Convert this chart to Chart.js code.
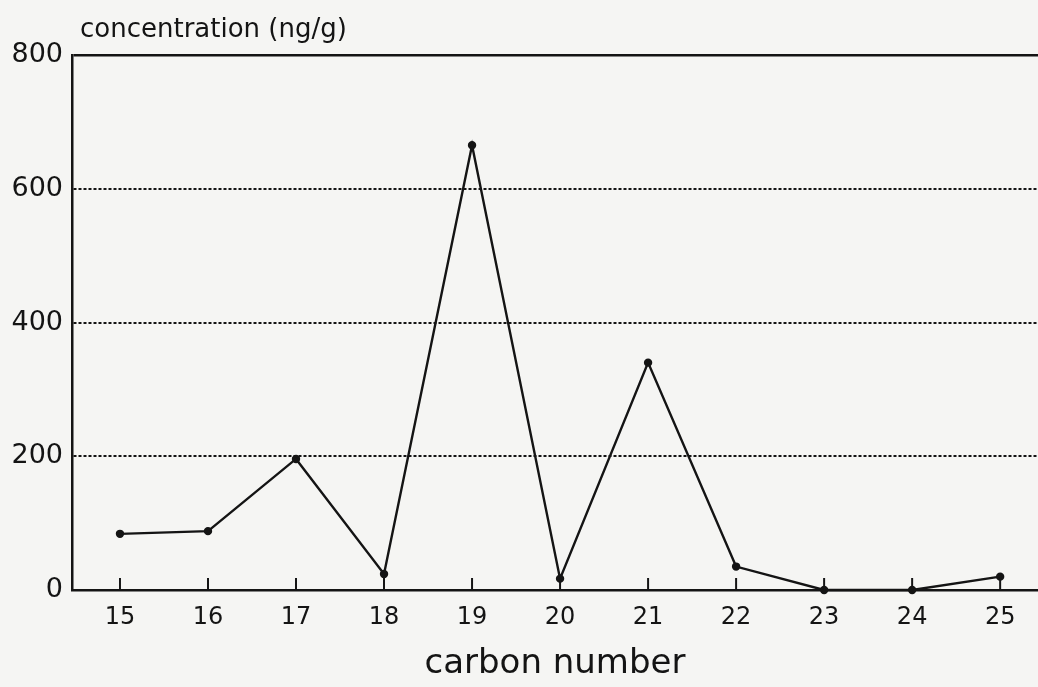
<!DOCTYPE html>
<html>
<head>
<meta charset="utf-8">
<script src="https://cdn.jsdelivr.net/npm/chart.js@4"></script>
<style>
  html, body { margin: 0; padding: 0; background: #f5f5f3; }
  #wrap { width: 1038px; height: 687px; }
</style>
</head>
<body>
<div id="wrap"><canvas id="chart" width="1038" height="687"></canvas></div>
<script>
const carbonNumbers = [15, 16, 17, 18, 19, 20, 21, 22, 23, 24, 25];
const concentration = [84, 88, 196, 24, 665, 17, 340, 35, 0, 0, 20];
const yTicks = [0, 200, 400, 600, 800];

const ink = "#141414";
const font = "'DejaVu Sans', sans-serif";

// short upward ticks on the x axis + the y axis caption
const extras = {
  id: "extras",
  afterDraw(chart) {
    const c = chart.ctx;
    const x = chart.scales.x;
    const area = chart.chartArea;
    c.save();
    c.strokeStyle = ink;
    c.lineWidth = 2;
    carbonNumbers.forEach(n => {
      const px = x.getPixelForValue(n);
      c.beginPath();
      c.moveTo(px, area.bottom);
      c.lineTo(px, area.bottom - 12);
      c.stroke();
    });
    c.fillStyle = ink;
    c.font = "26px " + font;
    c.textBaseline = "alphabetic";
    c.textAlign = "left";
    c.fillText("concentration (ng/g)", area.left + 8, area.top - 18);
    c.restore();
  }
};

const ctx = document.getElementById("chart").getContext("2d");
new Chart(ctx, {
  type: "line",
  data: {
    datasets: [{
      data: carbonNumbers.map((n, i) => ({ x: n, y: concentration[i] })),
      borderColor: ink,
      backgroundColor: ink,
      borderWidth: 2.4,
      pointRadius: 3,
      pointHoverRadius: 3,
      tension: 0,
      clip: false
    }]
  },
  options: {
    responsive: false,
    animation: false,
    layout: { autoPadding: false, padding: { top: 55, left: 0, right: 0, bottom: 0 } },
    plugins: { legend: { display: false }, tooltip: { enabled: false } },
    scales: {
      x: {
        type: "linear",
        min: 14.455,
        max: 25.43,
        afterFit(s) { s.height = 97; s.paddingLeft = 0; s.paddingRight = 0; },
        afterBuildTicks(s) { s.ticks = carbonNumbers.map(v => ({ value: v })); },
        grid: { display: false, drawTicks: false },
        border: { display: true, color: ink, width: 2.5 },
        ticks: { color: ink, padding: 13, font: { family: font, size: 24 } },
        title: {
          display: true,
          text: "carbon number",
          color: ink,
          padding: { top: 0, bottom: 2 },
          font: { family: font, size: 34 }
        }
      },
      y: {
        min: 0,
        max: 800,
        afterFit(s) { s.width = 72; s.paddingTop = 0; s.paddingBottom = 0; },
        afterBuildTicks(s) { s.ticks = yTicks.map(v => ({ value: v })); },
        grid: {
          drawTicks: false,
          color: ctx => (ctx.tick && ctx.tick.value === 0) ? "rgba(0,0,0,0)" : ink,
          lineWidth: ctx => (ctx.tick && ctx.tick.value === 800) ? 2.5 : 2
        },
        border: {
          display: true,
          color: ink,
          width: 2.5,
          dash: ctx => (ctx.tick && ctx.tick.value !== 800) ? [3, 2] : []
        },
        ticks: { color: ink, padding: 9, font: { family: font, size: 27 } }
      }
    }
  },
  plugins: [extras]
});
</script>
</body>
</html>
